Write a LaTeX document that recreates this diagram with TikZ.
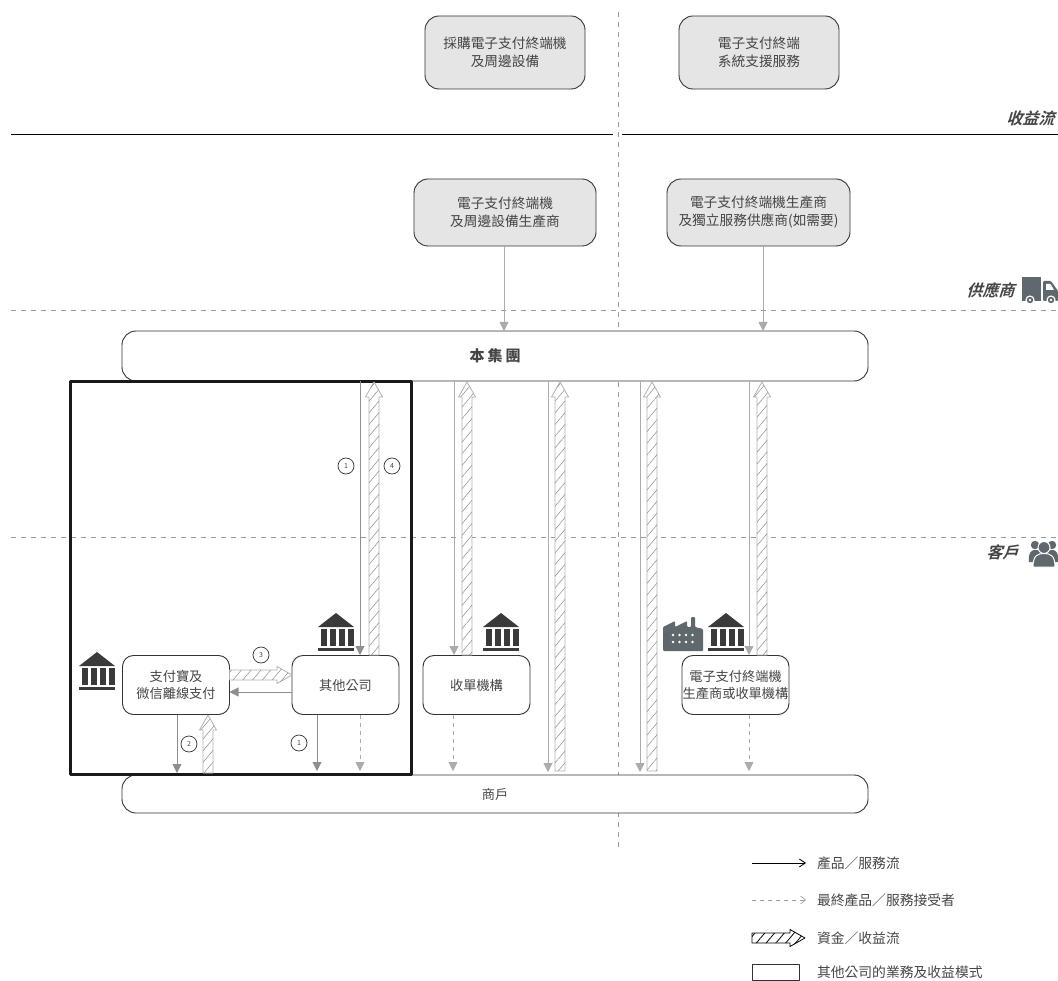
\documentclass[tikz,border=0pt]{standalone}
\usepackage{fontspec}
\setmainfont{Noto Sans CJK TC}
\newfontfamily\slantfont[FakeSlant=0.3,BoldFont={Noto Sans CJK TC Bold}]{Noto Sans CJK TC}
\usetikzlibrary{arrows.meta}
\usetikzlibrary{calc}
\usetikzlibrary{patterns.meta}

\definecolor{boxtxt}{HTML}{454545}
\definecolor{flowgray}{HTML}{8E8E8E}
\definecolor{paleflow}{HTML}{ABABAB}
\definecolor{iconink}{HTML}{3A3A3A}
\definecolor{slate}{HTML}{5E686D}

% hatched arrow between two named points
\newcommand{\moneyarrow}[3][moneyflow]{
    \coordinate (neck) at ($(#3)!15pt!(#2)$);
    \draw[#1] ($(#2)!5pt!90:(#3)$) -- ($(neck)!5pt!90:(#3)$) -- ($(neck)!8.5pt!90:(#3)$) -- (#3)
        -- ($(neck)!8.5pt!-90:(#3)$) -- ($(neck)!5pt!-90:(#3)$) -- ($(#2)!5pt!-90:(#3)$) -- cycle;
}

\tikzset{
    bank/.pic={
        \fill[iconink] (-18,14) -- (0,0) -- (18,14) -- cycle;
        \foreach \cx in {-14.5,-5.5,3.5,12.5} {\fill[iconink] (\cx-1,16) rectangle (\cx+5.5,33);}
        \fill[iconink] (-18,34.5) rectangle (18,38);
    },
}

\begin{document}
\begin{tikzpicture}[line cap=butt,line join=round,>=Triangle,x=1pt,y=-1pt,
    lbl/.style={text=boxtxt, font=\fontsize{13.2}{17.5}\selectfont, align=center},
    box/.style={lbl, draw=black!80, line width=0.9pt, rounded corners=11pt, fill=white, minimum width=107, minimum height=59, inner sep=0pt},
    topbox/.style={box, fill=black!10, rounded corners=14pt, font=\fontsize{13.7}{18}\selectfont},
    bar/.style={box, minimum width=746, rounded corners=14pt},
    sect/.style={text=boxtxt, font=\slantfont\bfseries\fontsize{16}{18}\selectfont},
    flow/.style={draw=flowgray, line width=0.8pt, -{Triangle[length=9,width=9,fill=flowgray]}},
    paleline/.style={flow, draw=paleflow, -{Triangle[length=9,width=9,fill=paleflow]}},
    finalflow/.style={paleline, dashed, dash pattern=on 4pt off 4pt},
    moneyflow/.style={draw=black!30, line width=0.8pt, fill=white, postaction={pattern={Lines[angle=50,distance=7.5,line width=0.5pt]}, pattern color=black!45}},
    num/.style={circle, draw=black!80, line width=0.7pt, fill=white, inner sep=0pt, minimum size=16, text=boxtxt, font=\fontsize{7}{8}\selectfont},
    divider/.style={draw=black!40, line width=0.5pt, dashed, dash pattern=on 5pt off 5pt},
    legtxt/.style={lbl, anchor=west, font=\fontsize{13.8}{16}\selectfont}]
    \useasboundingbox (0,0) rectangle (1058,981);

    % dividers
    \coordinate (midtop) at (618,12);
    \coordinate (midend) at (618,852);
    \coordinate (supl) at (11,310);
    \coordinate (supr) at (1058,310);
    \coordinate (cusl) at (11,537);
    \coordinate (cusr) at (1058,537);
    \coordinate (revla) at (11,135);
    \coordinate (revlb) at (613,135);
    \coordinate (revra) at (622,135);
    \coordinate (revrb) at (1058,135);
    \draw[divider] (midtop) -- (midend);
    \draw[divider] (supl) -- (supr);
    \draw[divider] (cusl) -- (cusr);
    \draw[line width=1pt] (revla) -- (revlb);
    \draw[line width=1pt] (revra) -- (revrb);

    \node[topbox, minimum width=160, minimum height=73] (buy) at (505,52.5) {採購電子支付終端機\\及周邊設備};
    \node[topbox, minimum width=160, minimum height=73] (support) at (759,52.5) {電子支付終端\\系統支援服務};
    \node[topbox, minimum width=182, minimum height=67] (makera) at (505,212.5) {電子支付終端機\\及周邊設備生產商};
    \node[topbox, minimum width=183, minimum height=67] (makerb) at (758.5,212.5) {電子支付終端機生產商\\及獨立服務供應商(如需要)};

    \node[sect, anchor=east] (revlbl) at (1058,118) {收益流};
    \node[sect, anchor=east] (suplbl) at (1018,290) {供應商};
    \node[sect, anchor=east] (cuslbl) at (1022,552) {客戶};

    \node[bar, minimum height=50, font=\bfseries\fontsize{15}{16}\selectfont] (group) at (495,356) {本\hspace{3pt}集\hspace{3pt}團};
    \node[bar, minimum height=38] (merchant) at (495,794) {商戶};

    % other companies frame
    \node[draw=black!90, line width=3pt, minimum width=341, minimum height=392, inner sep=0pt] (frame) at (240.5,578) {};

    \node[box] (alipay) at (176,685) {支付寶及\\微信離線支付};
    \node[box] (others) at (345.5,685) {其他公司};
    \node[box] (acquirer) at (476.5,685) {收單機構};
    \node[box] (termco) at (735.5,685) {電子支付終端機\\生產商或收單機構};

    \coordinate (supa) at (504,331);
    \coordinate (supb) at (763,331);
    \draw[paleline] (supa |- makera.south) -- (supa);
    \draw[paleline] (supb |- makerb.south) -- (supb);

    % anchors on the group bar and on the boxes
    \foreach \n/\x in {a/360,b/454,c/548,d/640,e/749} {
        \coordinate (gl\n) at (\x,381);
        \coordinate (bl\n) at (\x,655);
        \coordinate (ml\n) at (\x,772);
    }
    \foreach \n/\x in {a/374,b/467,c/560,d/652,e/762} {
        \coordinate (gh\n) at (\x,382);
        \coordinate (bh\n) at (\x,655);
        \coordinate (mh\n) at (\x,771);
    }

    \draw[flow] (gla) -- (bla);
    \draw[paleline] (glb) -- (blb);
    \draw[paleline] (glc) -- (mlc);
    \draw[paleline] (gld) -- (mld);
    \draw[paleline] (gle) -- (ble);

    \moneyarrow{bha}{gha}
    \moneyarrow{bhb}{ghb}
    \moneyarrow{mhc}{ghc}
    \moneyarrow{mhd}{ghd}
    \moneyarrow{bhe}{ghe}

    % below the boxes
    \coordinate (aliout) at (177,714.5);
    \coordinate (aliend) at (177,773);
    \coordinate (alipa) at (208,773);
    \coordinate (alipb) at (208,715);
    \coordinate (othout) at (317,714.5);
    \coordinate (othend) at (317,771);
    \coordinate (dsa) at (360,714.5);
    \coordinate (dea) at (360,771);
    \coordinate (dsb) at (453,714.5);
    \coordinate (deb) at (453,771);
    \coordinate (dsc) at (749,714.5);
    \coordinate (dec) at (749,771);
    \draw[flow] (aliout) -- (aliend);
    \moneyarrow{alipa}{alipb}
    \draw[flow] (othout) -- (othend);
    \draw[finalflow] (dsa) -- (dea);
    \draw[finalflow] (dsb) -- (deb);
    \draw[finalflow] (dsc) -- (dec);

    % between the two boxes
    \coordinate (paya) at (229.5,675);
    \coordinate (payb) at (292,675);
    \coordinate (retb) at (292,692);
    \coordinate (reta) at (229.5,692);
    \moneyarrow{paya}{payb}
    \draw[flow] (retb) -- (reta);

    \node[num] (n1a) at (346,466) {1};
    \node[num] (n4) at (392,466) {4};
    \node[num] (n3) at (261,655) {3};
    \node[num] (n2) at (189,744) {2};
    \node[num] (n1b) at (299,743) {1};

    \pic at (97,652) {bank};
    \pic at (336,613) {bank};
    \pic at (501,613) {bank};
    \pic at (726,613) {bank};

    % factory
    \fill[slate, rounded corners=1pt] (663,651) -- (663,627) -- (675,621) -- (675,627) -- (687,621) -- (687,627) -- (691,627) -- (691,617) -- (695,617) -- (695,627) -- (703,629) -- (703,651) -- cycle;
    \foreach \dx in {673,679.5,686,692.5} {
        \foreach \dy in {635,642} {\fill[white] (\dx,\dy) circle (1.4);}
    }

    % truck
    \fill[slate] (1022,277) rectangle (1041,301);
    \fill[slate, rounded corners=1pt] (1043,281) -- (1051,281) -- (1058,291) -- (1058,301) -- (1043,301) -- cycle;
    \fill[white] (1046,284) -- (1050.5,284) -- (1054,290) -- (1046,290) -- cycle;
    \foreach \wx in {1030,1051} {
        \fill[white] (\wx,300) circle (4.6);
        \fill[slate] (\wx,300) circle (3.2);
        \fill[white] (\wx,300) circle (1.3);
    }

    % customers
    \fill[slate] (1035,545) circle (4.2);
    \fill[slate] (1052,545) circle (4.2);
    \fill[slate] (1029,562) .. controls (1028,552) and (1032,549) .. (1037,550) -- (1051,550) .. controls (1055,549) and (1059,552) .. (1058,562) -- cycle;
    \fill[slate, draw=white, line width=1pt] (1044,547.5) circle (6);
    \fill[slate, draw=white, line width=1pt] (1033,567) .. controls (1033,555) and (1038,553.5) .. (1044,553.5) .. controls (1050,553.5) and (1055,555) .. (1055,567) -- cycle;

    % legend
    \coordinate (lega) at (752,863);
    \coordinate (legb) at (806,863);
    \coordinate (legc) at (752,900);
    \coordinate (legd) at (806,900);
    \coordinate (lege) at (752,938);
    \coordinate (legf) at (805,938);
    \draw[-{Straight Barb[length=6,width=8]}, line width=0.8pt] (lega) -- (legb);
    \draw[draw=black!40, dash pattern=on 4pt off 4pt, -{Straight Barb[length=5,width=8]}, line width=0.6pt] (legc) -- (legd);
    \moneyarrow[draw=black, line width=0.8pt, postaction={pattern={Lines[angle=50,distance=7.5,line width=0.8pt]}, pattern color=black}]{lege}{legf}
    \node[draw=black!80, line width=0.7pt, minimum width=47, minimum height=16, inner sep=0pt] (legbox) at (775.5,972) {};

    \node[legtxt] (t1) at (813.5,863) {產品／服務流};
    \node[legtxt] (t2) at (813.5,900) {最終產品／服務接受者};
    \node[legtxt] (t3) at (813.5,938) {資金／收益流};
    \node[legtxt] (t4) at (813.5,972) {其他公司的業務及收益模式};
\end{tikzpicture}
\end{document}
